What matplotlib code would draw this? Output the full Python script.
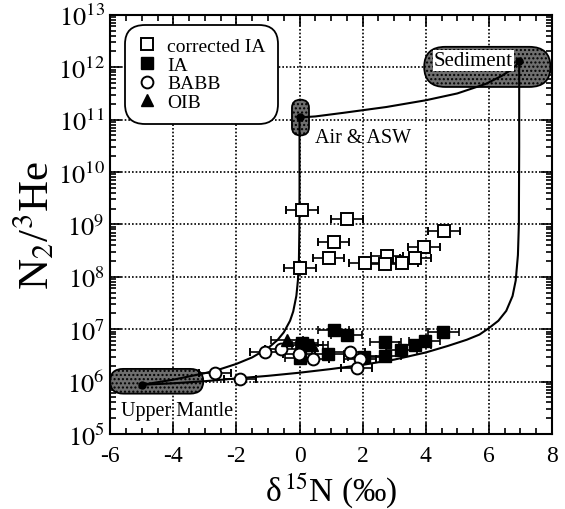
import numpy as np
import matplotlib
matplotlib.use("Agg")
import matplotlib.pyplot as plt
from matplotlib.patches import FancyBboxPatch
from matplotlib.lines import Line2D
from matplotlib.ticker import LogLocator, FuncFormatter, NullFormatter, MultipleLocator

plt.rcParams['font.family'] = ['Liberation Serif', 'DejaVu Serif']
plt.rcParams['mathtext.fontset'] = 'stix'
plt.rcParams['axes.unicode_minus'] = False

# ── data (delta15N, N2/3He) ──────────────────────────────
cia_d = [0.07, 1.50, 4.57, 1.08, 3.94, 0.92, 2.77, 2.06, 2.72, 3.25, 3.67, 0.02]
cia_r = [1.86e9, 1.29e9, 7.6e8, 4.7e8, 3.7e8, 2.3e8, 2.45e8, 1.8e8, 1.74e8, 1.86e8, 2.25e8, 1.45e8]

ia_d = [1.08, 1.49, 4.56, 2.72, 3.96, 3.65, 3.23, 2.70, 0.91, 0.08, 0.25, 0.03, 2.04]
ia_r = [9.6e6, 7.7e6, 8.9e6, 5.8e6, 6.0e6, 5.1e6, 4.1e6, 3.1e6, 3.3e6, 5.4e6, 5.0e6, 2.8e6, 2.95e6]

babb_d = [-2.68, -1.88, -1.08, -0.58, -0.01, 0.42, 1.59, 1.92, 1.81]
babb_r = [1.48e6, 1.12e6, 3.6e6, 4.2e6, 3.4e6, 2.7e6, 3.6e6, 2.7e6, 1.82e6]

oib_d = [-0.40, 0.40]
oib_r = [6.3e6, 5.0e6]

xerr = 0.5

# end members
end_names = ["Upper Mantle", "Air & ASW", "Sediment"]
end_d = [-5.0, 0.0, 6.96]
end_r = [8.7e5, 1.1e11, 1.3e12]

# mixing curves
um_air_d = [-5.0, -4.0, -3.0, -2.5, -2.0, -1.5, -1.0, -0.7, -0.5, -0.3, -0.2,
            -0.1, -0.05, -0.02, -0.005, 0.0, 0.0]
um_air_r = [8.7e5, 1.09e6, 1.45e6, 1.74e6, 2.18e6, 2.9e6, 4.35e6, 6.2e6, 8.7e6,
            1.45e7, 2.18e7, 4.35e7, 8.7e7, 2.0e8, 8.0e8, 5e9, 1.1e11]

um_sed_d = [-5.0, -4.0, -3.0, -2.0, -1.0, 0.0, 1.0, 2.0, 3.0, 4.0, 4.7, 5.3,
            5.7, 6.0, 6.3, 6.55, 6.75, 6.85, 6.92, 6.95, 6.96, 6.96]
um_sed_r = [8.7e5, 9.3e5, 1.02e6, 1.15e6, 1.29e6, 1.48e6, 1.74e6, 2.09e6, 2.63e6,
            3.6e6, 4.8e6, 6.3e6, 7.9e6, 1.05e7, 1.45e7, 2.24e7, 4.3e7, 8.5e7,
            2.6e8, 1.0e9, 3e10, 1.3e12]

air_sed_d = [0.0, 0.5, 1.4, 2.75, 4.0, 5.0, 5.9, 6.4, 6.65, 6.85, 6.96]
air_sed_r = [1.1e11, 1.15e11, 1.35e11, 1.74e11, 2.34e11, 3.16e11, 4.8e11,
             6.8e11, 8.5e11, 1.07e12, 1.3e12]

XMIN, XMAX = -6, 8
YMIN, YMAX = 1e5, 1e13

fig = plt.figure(figsize=(5.65, 5.10), dpi=100)
ax = fig.add_axes([0.195, 0.147, 0.782, 0.822])
ax.set_yscale("log")
ax.set_xlim(XMIN, XMAX)
ax.set_ylim(YMIN, YMAX)


def to_axes(d, r):
    fx = (d - XMIN) / (XMAX - XMIN)
    fy = (np.log10(r) - np.log10(YMIN)) / (np.log10(YMAX) - np.log10(YMIN))
    return fx, fy


def pill(d0, d1, r0, r1):
    x0, y0 = to_axes(d0, r0)
    x1, y1 = to_axes(d1, r1)
    w, h = x1 - x0, y1 - y0
    rs = min(w, h) / 2
    p = FancyBboxPatch((x0, y0), w, h, transform=ax.transAxes,
                       boxstyle=f"round,pad=0,rounding_size={rs}",
                       facecolor="#6e6e6e", edgecolor="black", lw=1.3,
                       hatch="....", zorder=2, clip_on=False)
    ax.add_patch(p)


# grid
ax.grid(True, which="major", color="black", linestyle=(0, (1, 1.2)), lw=1.2, zorder=0)

# end-member boxes
pill(-6.0, -3.05, 5.9e5, 1.75e6)
pill(-0.24, 0.30, 5.0e10, 2.4e11)
pill(3.95, 7.95, 4.2e11, 2.45e12)

# mixing curves
for d, r in [(um_air_d, um_air_r), (um_sed_d, um_sed_r), (air_sed_d, air_sed_r)]:
    ax.plot(d, r, color="black", lw=1.5, zorder=3)

ax.plot(end_d, end_r, "o", color="black", ms=5, zorder=4)

# data
eb = dict(xerr=xerr, ecolor="black", elinewidth=1.2, capsize=3, capthick=1.2,
          linestyle="none", zorder=5)
ax.errorbar(cia_d, cia_r, fmt="s", ms=8.5, mfc="white", mec="black", mew=1.4, **eb)
ax.errorbar(ia_d, ia_r, fmt="s", ms=8.5, mfc="black", mec="black", **eb)
ax.errorbar(babb_d, babb_r, fmt="o", ms=8.5, mfc="white", mec="black", mew=1.4, **eb)
ax.errorbar(oib_d, oib_r, fmt="^", ms=8.5, mfc="black", mec="black", **eb)

# labels
ax.text(-5.65, 2.8e5, end_names[0], fontsize=14.5, ha="left", va="center", zorder=6)
ax.text(0.5, 4.5e10, end_names[1], fontsize=14.5, ha="left", va="center", zorder=6)
ax.text(5.5, 1.32e12, end_names[2], fontsize=15, ha="center", va="center", zorder=6,
        bbox=dict(boxstyle="square,pad=0.05", facecolor="white", edgecolor="none"))

# legend
handles = [
    Line2D([], [], marker="s", ls="none", ms=8.5, mfc="white", mec="black", mew=1.4),
    Line2D([], [], marker="s", ls="none", ms=8.5, mfc="black", mec="black"),
    Line2D([], [], marker="o", ls="none", ms=8.5, mfc="white", mec="black", mew=1.4),
    Line2D([], [], marker="^", ls="none", ms=8.5, mfc="black", mec="black"),
]
leg = ax.legend(handles, ["corrected IA", "IA", "BABB", "OIB"],
                loc="upper left", bbox_to_anchor=(0.025, 0.985), fontsize=14,
                handlelength=1.0, handletextpad=0.5, labelspacing=0.05,
                borderpad=0.35, framealpha=1, edgecolor="black", fancybox=True)
leg.get_frame().set_boxstyle("round", pad=0.3, rounding_size=1.0)
leg.get_frame().set_linewidth(1.3)
leg.set_zorder(7)

# ticks
ax.xaxis.set_major_locator(MultipleLocator(2))
ax.xaxis.set_minor_locator(MultipleLocator(0.5))
ax.yaxis.set_major_locator(LogLocator(base=10, numticks=20))
ax.yaxis.set_minor_locator(LogLocator(base=10, subs=np.arange(2, 10), numticks=20))
ax.yaxis.set_minor_formatter(NullFormatter())
ax.yaxis.set_major_formatter(FuncFormatter(lambda v, p: r"$10^{%d}$" % round(np.log10(v))))
ax.tick_params(which="both", direction="in", top=True, right=True, width=1.2)
ax.tick_params(which="major", length=8)
ax.tick_params(which="minor", length=4)
ax.tick_params(axis="x", labelsize=17, pad=8)
ax.tick_params(axis="y", labelsize=19, pad=4)
for s in ax.spines.values():
    s.set_linewidth(1.5)

ax.set_xlabel(r"$\mathregular{\delta}^{\,15}$N (‰)", fontsize=24, labelpad=3)
ax.set_ylabel(r"N$_2$/$^3$He", fontsize=31, labelpad=0)

plt.savefig("out.png", dpi=100)
